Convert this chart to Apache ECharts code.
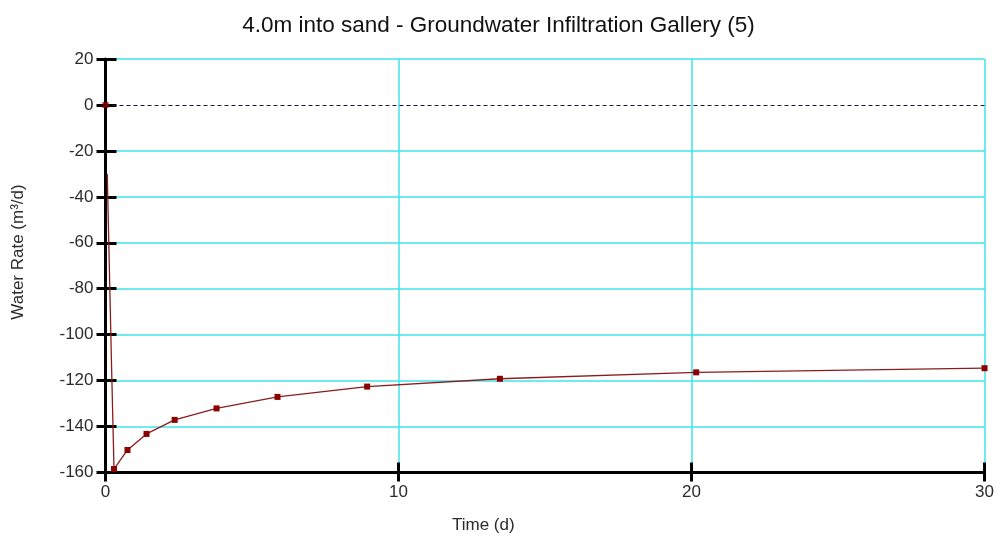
<!DOCTYPE html>
<html>
<head>
<meta charset="utf-8">
<script src="https://cdn.jsdelivr.net/npm/echarts@6/dist/echarts.min.js"></script>
<style>
html,body{margin:0;padding:0;background:#fff;}
#chart{width:997px;height:536px;}
</style>
</head>
<body>
<div id="chart"></div>
<script>
// ---- data ----
var titleText = '4.0m into sand - Groundwater Infiltration Gallery (5)';
var xName = 'Time (d)';
var yName = 'Water Rate (m\u00b3/d)';

var startTimes = [0];
var startValues = [0];

var earlyTimes = [0.06, 0.13, 0.2, 0.26];
var earlyValues = [-30, -70, -110, -142];

var markerTimes = [0.29, 0.75, 1.40, 2.36, 3.79, 5.87, 8.93, 13.46, 20.16, 30.0];
var markerValues = [-158.5, -150.2, -143.2, -137.1, -132.1, -127.1, -122.6, -119.2, -116.4, -114.6];

var xMin = 0, xMax = 30, xStep = 10;
var yMin = -160, yMax = 20, yStep = 20;

// ---- build ----
var lineData = [];
for (var i = 0; i < earlyTimes.length; i++) {
  lineData.push({value: [earlyTimes[i], earlyValues[i]], symbol: 'none'});
}
for (var j = 0; j < markerTimes.length; j++) {
  lineData.push({value: [markerTimes[j], markerValues[j]]});
}
var startData = startTimes.map(function (t, k) { return [t, startValues[k]]; });

var nY = Math.round((yMax - yMin) / yStep) + 1;
var splitColors = [];
for (var k = 0; k < nY; k++) {
  var v = yMin + k * yStep;
  splitColors.push(v === 0 ? 'rgba(0,0,0,0)' : '#3fe3ea');
}

var cyan = '#3fe3ea';
var font = 'Liberation Sans, Arial, sans-serif';
var labelColor = '#2b2b2b';

var chart = echarts.init(document.getElementById('chart'), null, {renderer: 'canvas'});
chart.setOption({
  animation: false,
  backgroundColor: '#ffffff',
  title: [
    {text: titleText, left: 'center', top: 9,
     textStyle: {fontFamily: font, fontSize: 22.5, fontWeight: 'normal', color: '#111'}}
  ],
  graphic: [
    {type: 'text', left: 452, top: 517,
     style: {text: xName, font: '17px ' + font, fill: labelColor}},
    {type: 'text', x: 18, y: 252, rotation: Math.PI / 2,
     style: {text: yName, font: '17px ' + font, fill: labelColor, align: 'center', verticalAlign: 'middle'}}
  ],
  grid: {left: 105.5, right: 5.5, top: 59, bottom: 63.5, containLabel: false},
  xAxis: [
    {type: 'value', min: xMin, max: xMax, interval: xStep, position: 'bottom',
     axisLine: {show: true, onZero: false, lineStyle: {color: '#000', width: 3}},
     axisTick: {show: true, inside: false, length: 9, lineStyle: {color: '#000', width: 3}},
     axisLabel: {show: true, margin: 11, color: labelColor, fontFamily: font, fontSize: 17},
     splitLine: {show: true, lineStyle: {color: cyan, width: 1.5}}},
    {type: 'value', min: xMin, max: xMax, interval: xStep, position: 'bottom', offset: 0,
     axisLine: {show: false, onZero: false},
     axisTick: {show: true, inside: true, length: 10, lineStyle: {color: '#000', width: 3}},
     axisLabel: {show: false}, splitLine: {show: false}}
  ],
  yAxis: [
    {type: 'value', min: yMin, max: yMax, interval: yStep, position: 'left',
     axisLine: {show: true, onZero: false, lineStyle: {color: '#000', width: 3}},
     axisTick: {show: true, inside: false, length: 9, lineStyle: {color: '#000', width: 3}},
     axisLabel: {show: true, margin: 12, color: labelColor, fontFamily: font, fontSize: 17},
     splitLine: {show: true, lineStyle: {color: splitColors, width: 1.5}}},
    {type: 'value', min: yMin, max: yMax, interval: yStep, position: 'left', offset: 0,
     axisLine: {show: false, onZero: false},
     axisTick: {show: true, inside: true, length: 11, lineStyle: {color: '#000', width: 3}},
     axisLabel: {show: false}, splitLine: {show: false}}
  ],
  series: [
    {type: 'line', xAxisIndex: 0, yAxisIndex: 0, data: lineData,
     symbol: 'rect', symbolSize: 6, showSymbol: true,
     lineStyle: {color: '#8b1c1c', width: 1.3},
     itemStyle: {color: '#8b0000'},
     z: 5,
     markLine: {silent: true, symbol: 'none', label: {show: false},
       lineStyle: {color: '#1a1a40', type: [4, 3], width: 1},
       data: [{yAxis: 0}]}},
    {type: 'scatter', xAxisIndex: 0, yAxisIndex: 0, data: startData,
     symbol: 'rect', symbolSize: 6, itemStyle: {color: '#8b0000'}, z: 6}
  ]
});
</script>
</body>
</html>
